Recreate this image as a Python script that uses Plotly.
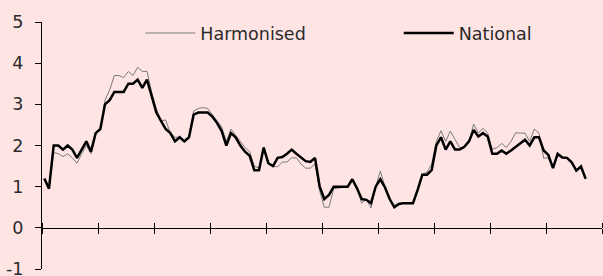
import plotly.graph_objects as go

# Monthly observations (10 years shown, 117 months of data)
national = [1.2, 0.95, 2.0, 2.0, 1.9, 2.0, 1.9, 1.7, 1.9, 2.1, 1.85, 2.3,
            2.4, 3.0, 3.1, 3.3, 3.3, 3.3, 3.5, 3.5, 3.6, 3.4, 3.6, 3.2,
            2.8, 2.6, 2.4, 2.3, 2.1, 2.2, 2.1, 2.2, 2.75, 2.8, 2.8, 2.8,
            2.7, 2.55, 2.35, 2.0, 2.3, 2.2, 2.0, 1.85, 1.75, 1.4, 1.4, 1.95,
            1.57, 1.5, 1.7, 1.72, 1.8, 1.9, 1.8, 1.72, 1.62, 1.6, 1.7, 1.0,
            0.7, 0.8, 1.0, 1.0, 1.0, 1.0, 1.18, 0.96, 0.7, 0.68, 0.6, 1.0,
            1.18, 0.98, 0.7, 0.5, 0.58, 0.6, 0.6, 0.6, 0.92, 1.29, 1.29, 1.4,
            2.0, 2.2, 1.9, 2.1, 1.9, 1.9, 1.97, 2.1, 2.38, 2.22, 2.3, 2.22,
            1.8, 1.8, 1.88, 1.8, 1.88, 1.96, 2.05, 2.14, 2.0, 2.2, 2.2, 1.88,
            1.77, 1.45, 1.8, 1.71, 1.7, 1.59, 1.39, 1.49, 1.19]

harmonised = [1.2, 1.0, 1.83, 1.8, 1.73, 1.8, 1.7, 1.57, 1.8, 2.0, 1.8, 2.3,
              2.4, 3.1, 3.35, 3.7, 3.7, 3.65, 3.8, 3.7, 3.9, 3.8, 3.8, 3.3,
              2.9, 2.6, 2.62, 2.3, 2.2, 2.2, 2.1, 2.2, 2.84, 2.9, 2.92, 2.9,
              2.75, 2.6, 2.45, 2.1, 2.4, 2.25, 2.1, 1.95, 1.85, 1.5, 1.45, 1.95,
              1.6, 1.5, 1.48, 1.6, 1.6, 1.7, 1.7, 1.55, 1.45, 1.45, 1.55, 0.9,
              0.5, 0.5, 0.95, 0.97, 0.98, 1.0, 1.15, 0.98, 0.6, 0.7, 0.48, 1.0,
              1.38, 1.0, 0.7, 0.55, 0.6, 0.6, 0.6, 0.6, 0.95, 1.3, 1.35, 1.55,
              2.1, 2.36, 2.1, 2.35, 2.15, 1.95, 1.95, 2.1, 2.52, 2.3, 2.42, 2.3,
              1.91, 1.95, 2.05, 1.95, 2.1, 2.31, 2.3, 2.3, 2.1, 2.4, 2.3, 1.69,
              1.7, 1.5, 1.75, 1.7, 1.7, 1.6, 1.4, 1.5, 1.2]

months = [i + 0.5 for i in range(len(national))]
x_ticks = [0, 12, 24, 36, 48, 60, 72, 84, 96, 108, 120]
y_ticks = [-1, 0, 1, 2, 3, 4, 5]
y_labels = ["-1", "0", "1", "2", "3", "4", "5"]

FONT = "DejaVu Sans, sans-serif"
BG = "#FFE4E4"
TXT = "#2a2a2a"

fig = go.Figure()
fig.add_trace(go.Scatter(x=months, y=harmonised, mode="lines", name="Harmonised",
                         line=dict(color="#7a7a7a", width=1), legend="legend"))
fig.add_trace(go.Scatter(x=months, y=national, mode="lines", name="National",
                         line=dict(color="#000000", width=2.5), legend="legend2"))

# helper trace so the upper half of the crossing x tick marks is drawn
fig.add_trace(go.Scatter(x=[0, 120], y=[None, None], xaxis="x2", showlegend=False,
                         hoverinfo="skip"))

fig.update_layout(
    width=603, height=276,
    margin=dict(l=42, r=1, t=22, b=7, autoexpand=False),
    paper_bgcolor=BG, plot_bgcolor=BG,
    font=dict(family=FONT, size=17.5, color=TXT),
    showlegend=True,
    legend=dict(x=0.1755, y=0.955, xanchor="left", yanchor="middle",
                bgcolor="rgba(0,0,0,0)", font=dict(size=17.5, color=TXT),
                itemwidth=50),
    legend2=dict(x=0.637, y=0.955, xanchor="left", yanchor="middle",
                 bgcolor="rgba(0,0,0,0)", font=dict(size=17.5, color=TXT),
                 itemwidth=50),
    xaxis=dict(range=[0, 120], tickvals=x_ticks, showticklabels=False,
               ticks="outside", ticklen=5, tickcolor="black", tickwidth=1,
               showline=True, linecolor="black", linewidth=1,
               showgrid=False, zeroline=False,
               anchor="free", position=1 / 6),
    xaxis2=dict(range=[0, 120], tickvals=x_ticks, showticklabels=False,
                ticks="outside", ticklen=5, tickcolor="black", tickwidth=1,
                side="top", showline=False, showgrid=False, zeroline=False,
                overlaying="x", anchor="free", position=1 / 6),
    yaxis=dict(range=[-1, 5], tickvals=y_ticks, ticktext=y_labels,
               ticks="outside", ticklen=6, tickcolor="black",
               showline=True, linecolor="black", linewidth=1,
               showgrid=False, zeroline=False, ticklabelstandoff=8,
               ticklabeloverflow="allow"),
)

fig.write_html("out.html",
               config={"displayModeBar": False},
               post_script="document.body.style.margin='0';"
                           "document.body.style.overflow='hidden';")
